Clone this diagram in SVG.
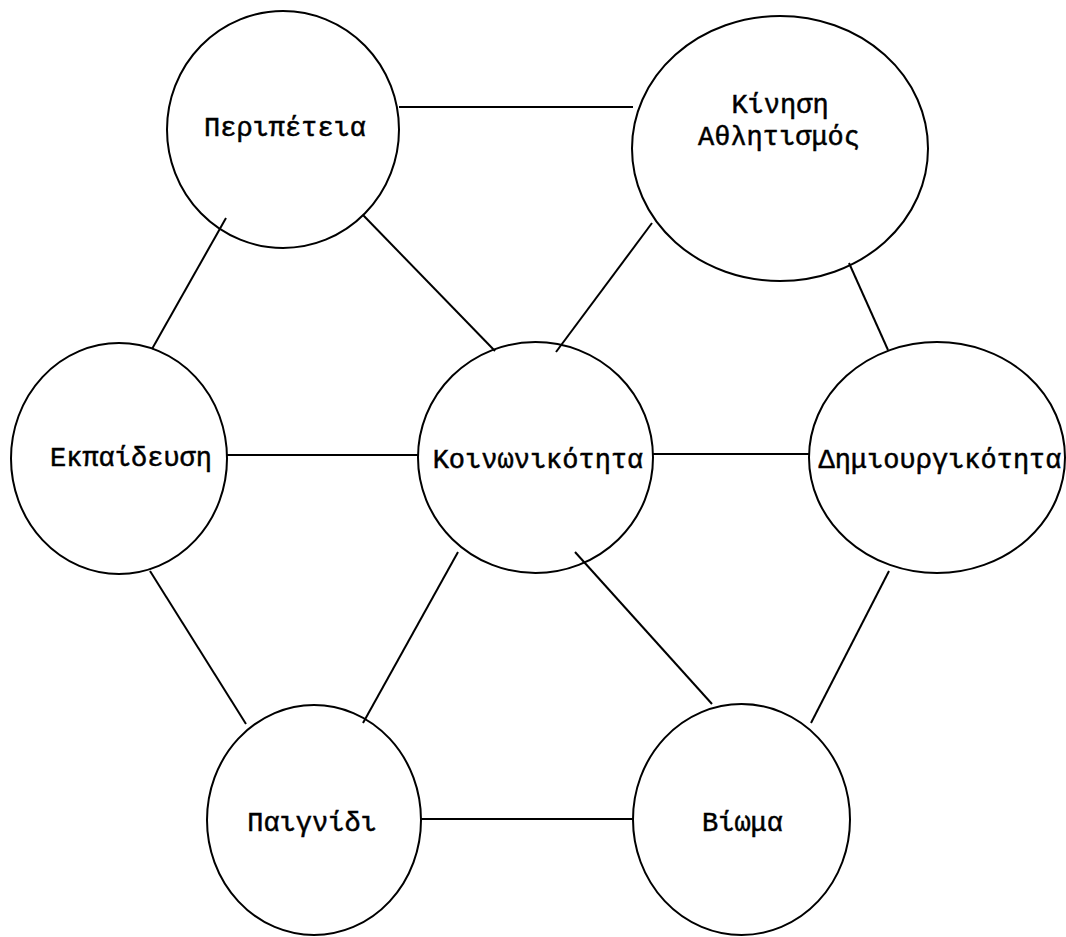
<svg xmlns="http://www.w3.org/2000/svg" width="1066" height="937" viewBox="0 0 1066 937">
<style>
.n{fill:none;stroke:#000;stroke-width:2}
.c line{stroke:#000;stroke-width:2}
.t{font-family:"Liberation Mono","DejaVu Sans Mono",monospace;font-size:27px;text-anchor:middle;fill:#000;stroke:#000;stroke-width:0.5}
</style>
<rect width="1066" height="937" fill="#fff"/>
<g id="connectors" class="c">
<line x1="399" y1="107" x2="633" y2="107"/>
<line x1="226" y1="218" x2="152" y2="349"/>
<line x1="363" y1="215" x2="495" y2="351"/>
<line x1="652" y1="223" x2="556" y2="352"/>
<line x1="849" y1="263" x2="888" y2="350"/>
<line x1="227" y1="455" x2="418" y2="455"/>
<line x1="653" y1="454" x2="809" y2="454"/>
<line x1="150" y1="571" x2="246" y2="724"/>
<line x1="458" y1="552" x2="363" y2="723"/>
<line x1="575" y1="552" x2="712" y2="704"/>
<line x1="889" y1="571" x2="811" y2="723"/>
<line x1="421" y1="819" x2="633" y2="819"/>
</g>
<g id="peripeteia"><ellipse class="n" cx="283" cy="129.5" rx="116" ry="118.5"/><text class="t" x="285" y="136">Περιπέτεια</text></g>
<g id="kinisi"><ellipse class="n" cx="780" cy="148.5" rx="148" ry="132.5"/><text class="t" x="780" y="113">Κίνηση</text><text class="t" x="779" y="145">Αθλητισμός</text></g>
<g id="ekpaideusi"><ellipse class="n" cx="119" cy="458.5" rx="108" ry="115.5"/><text class="t" x="131" y="466">Εκπαίδευση</text></g>
<g id="koinonikotita"><ellipse class="n" cx="535.5" cy="457.5" rx="117.5" ry="115.5"/><text class="t" x="538" y="468">Κοινωνικότητα</text></g>
<g id="dimiourgikotita"><ellipse class="n" cx="937" cy="457.5" rx="128" ry="115.5"/><text class="t" x="940" y="468">Δημιουργικότητα</text></g>
<g id="paignidi"><ellipse class="n" cx="314" cy="820" rx="107" ry="115"/><text class="t" x="312" y="831">Παιγνίδι</text></g>
<g id="vioma"><ellipse class="n" cx="741.5" cy="819.5" rx="108.5" ry="115.5"/><text class="t" x="742.5" y="831">Βίωμα</text></g>
</svg>
